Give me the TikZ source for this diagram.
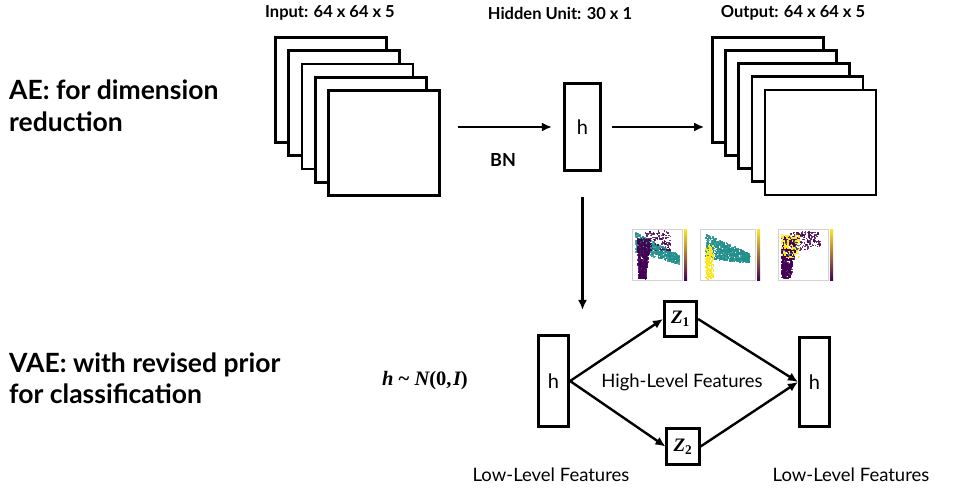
\documentclass[tikz,border=0pt]{standalone}
\usepackage{fontspec}
\setmainfont{Lato}
\newfontfamily\mfont{Liberation Serif}
\newcommand{\bi}[1]{{\bfseries\itshape #1}}
\newcommand{\bu}[1]{{\bfseries\upshape #1}}
\usetikzlibrary{arrows.meta}
\definecolor{vpurple}{HTML}{440154}
\definecolor{vteal}{HTML}{21908D}
\definecolor{vyellow}{HTML}{FDE725}
\tikzset{
  layer/.style={draw, line width=2.6pt, fill=white, minimum width=111pt, minimum height=105pt, inner sep=0pt},
  hbox/.style={draw, line width=2.6pt, fill=white, inner sep=0pt, font=\fontsize{20}{22}\selectfont},
  zbox/.style={draw, line width=2.6pt, fill=white, minimum width=32.5pt, minimum height=35.5pt, inner sep=0pt, font=\mfont\fontsize{19}{20}\selectfont},
  arr/.style={line width=2.4pt, -{Latex[length=10pt,width=9pt]}},
  toplbl/.style={font=\bfseries\fontsize{16.5}{18}\selectfont},
  sidelbl/.style={anchor=base west, inner sep=0pt, font=\bfseries\fontsize{26.5}{28}\selectfont},
  feat/.style={font=\fontsize{18.5}{20}\selectfont},
  pframe/.style={draw=gray!35, line width=0.5pt},
  dot/.style={opacity=0.8}
}
\begin{document}
\begin{tikzpicture}[x=1pt,y=-1pt]
\useasboundingbox (0,0) rectangle (966,489);
% input stack
\foreach \k in {1,...,5}{
  \node[layer] (in\k) at ({331+13.25*(\k-1)},{90+13.25*(\k-1)}) {};
}
% output stack
\foreach \k in {1,...,5}{
  \node[layer] (out\k) at ({768+13.1*(\k-1)},{90+13.1*(\k-1)}) {};
}
\node[toplbl] (tin) at (330,13) {Input: 64 x 64 x 5};
\node[toplbl] (thid) at (560,13) {Hidden Unit: 30 x 1};
\node[toplbl] (tout) at (793,13) {Output: 64 x 64 x 5};
% top hidden unit
\node[hbox, minimum width=36.5pt, minimum height=87.5pt] (hT) at (582.5,127) {h};
\node[font=\bfseries\fontsize{18}{22}\selectfont] (bn) at (503,160) {BN};
\draw[arr, shorten <=17pt, shorten >=11pt] (in5.east |- hT.west) -- (hT.west);
\draw[arr, shorten <=10pt, shorten >=7pt] (hT.east) -- (hT.east -| out1.west);
% lower part
\node[hbox, minimum width=30.5pt, minimum height=91.5pt] (hL) at (553.5,381) {h};
\node[hbox, minimum width=30.5pt, minimum height=89.5pt] (hR) at (814.5,382) {h};
\node[zbox] (z1) at (680.5,319) {\bi{Z}\textsubscript{\bu{1}}};
\node[zbox] (z2) at (683,446.5) {\bi{Z}\textsubscript{\bu{2}}};
\draw[arr, shorten <=25pt, shorten >=24pt] (hT.south) -- (hT.south |- hL.north);
\draw[arr] (hL.east) -- (z1.west);
\draw[arr] (hL.east) -- (z2.west);
\draw[arr] (z1.east) -- (hR.west);
\draw[arr] (z2.east) -- (hR.west);
\node[feat] (hi) at (682,382) {High-Level Features};
\node[feat] (lowL) at (551,475) {Low-Level Features};
\node[feat] (lowR) at (851,475) {Low-Level Features};
\node[font=\mfont\fontsize{20.5}{22}\selectfont] (prior) at (425,381) {\bi{h} \bu{\textasciitilde} \bi{N}\bu{(0,\kern1.5pt}\bi{I}\bu{)}};
% side labels
\node[sidelbl] (ae1) at (9,100) {AE: for dimension};
\node[sidelbl] (ae2) at (9,132) {reduction};
\node[sidelbl] (vae1) at (9,372) {VAE: with revised prior};
\node[sidelbl] (vae2) at (9,403) {for classification};
% scatter plots
\pgfmathsetseed{11}
% plot 1
\draw[pframe] (632,229) rectangle (682,280);
\foreach \i in {1,...,550}{
  \pgfmathsetmacro\u{rnd}\pgfmathsetmacro\v{rnd}
  \fill[vteal,dot] ({635+44*\u},{232+23*\u+19*\v*(1-0.55*\u)}) rectangle +(1.7,1.7);
}
\foreach \i in {1,...,120}{
  \pgfmathsetmacro\u{rnd}\pgfmathsetmacro\v{rnd}
  \fill[vpurple,dot] ({644+26*\u},{230+20*\v}) rectangle +(1.5,1.5);
}
\foreach \i in {1,...,500}{
  \pgfmathsetmacro\u{rnd}\pgfmathsetmacro\w{rnd}
  \fill[vpurple,dot] ({636+(14-7*\w)*\u+2*\w},{238+40*\w}) rectangle +(1.7,1.7);
}
\shade[top color=vyellow, middle color=vteal, bottom color=vpurple] (684,229) rectangle (687,280);
% plot 2
\draw[pframe] (700,229) rectangle (755,280);
\foreach \i in {1,...,750}{
  \pgfmathsetmacro\u{rnd}\pgfmathsetmacro\v{rnd}
  \fill[vteal,dot] ({705+44*\u},{233+20*\u+25*\v*(1-0.65*\u)}) rectangle +(1.7,1.7);
}
\foreach \i in {1,...,180}{
  \pgfmathsetmacro\u{rnd}\pgfmathsetmacro\v{rnd}
  \fill[vyellow] ({705+8*\u},{245+33*\v}) rectangle +(1.6,1.6);
}
\shade[top color=vyellow, middle color=vteal, bottom color=vpurple] (757,229) rectangle (760,280);
% plot 3
\draw[pframe] (778,229) rectangle (828,280);
\foreach \i in {1,...,180}{
  \pgfmathsetmacro\u{rnd}\pgfmathsetmacro\v{rnd}
  \fill[vpurple,dot] ({790+30*\u},{231+22*\v*(1-0.3*\u)}) rectangle +(1.5,1.5);
}
\foreach \i in {1,...,550}{
  \pgfmathsetmacro\u{rnd}\pgfmathsetmacro\w{rnd}
  \fill[vpurple,dot] ({781+(16-7*\w)*\u},{236+42*\w}) rectangle +(1.7,1.7);
}
\foreach \i in {1,...,110}{
  \pgfmathsetmacro\u{rnd}\pgfmathsetmacro\v{rnd}
  \fill[vyellow] ({781+18*\u},{233+24*\v}) rectangle +(1.5,1.5);
}
\foreach \i in {1,...,10}{
  \pgfmathsetmacro\u{rnd}\pgfmathsetmacro\v{rnd}
  \fill[vteal] ({783+20*\u},{236+20*\v}) rectangle +(1.5,1.5);
}
\shade[top color=vyellow, middle color=vteal, bottom color=vpurple] (830,229) rectangle (833,280);
\end{tikzpicture}
\end{document}
